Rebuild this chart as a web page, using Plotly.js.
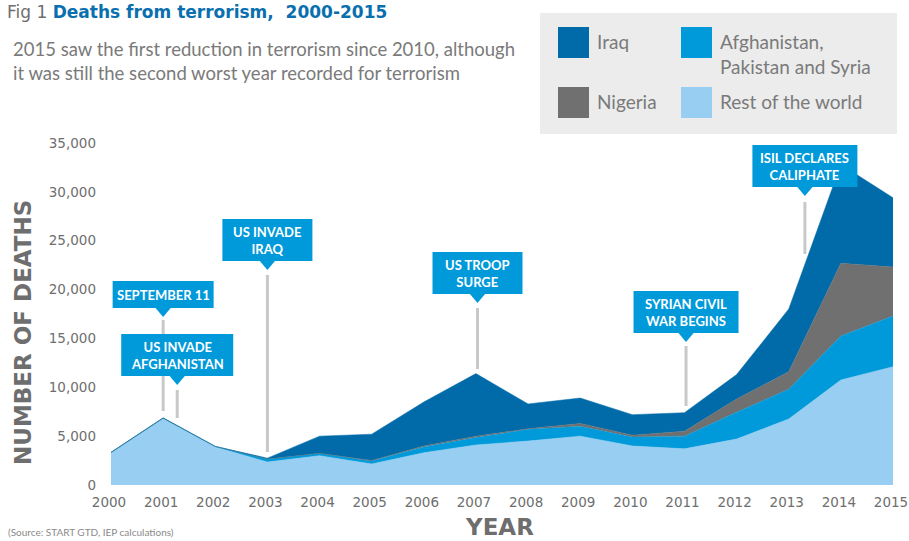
<!DOCTYPE html>
<html>
<head>
<meta charset="utf-8">
<script src="https://cdn.plot.ly/plotly-3.0.1.min.js"></script>
<style>html,body{margin:0;padding:0;background:#fff;}#chart{width:909px;height:541px;}</style>
</head>
<body>
<div id="chart"></div>
<script>
// ---- data ----
const years = [2000,2001,2002,2003,2004,2005,2006,2007,2008,2009,2010,2011,2012,2013,2014,2015];
const restOfWorld = [3300,6800,3900,2350,3000,2150,3300,4100,4500,5000,4000,3700,4700,6750,10750,12100];
const afgPakSyria = [20,50,50,300,250,300,600,750,1200,1000,900,1300,2750,3050,4500,5200];
const nigeria = [0,0,0,0,0,50,100,150,50,300,200,500,1350,1800,7450,5000];
const iraq = [30,20,0,100,1750,2700,4500,6400,2550,2600,2100,1900,2500,6400,10100,7100];
const seriesNames = ['Rest of the world','Afghanistan,<br>Pakistan and Syria','Nigeria','Iraq'];
const yTicks = [0,5000,10000,15000,20000,25000,30000,35000];
const xTicks = years;
const eventLabels = ['SEPTEMBER 11','US INVADE<br>AFGHANISTAN','US INVADE<br>IRAQ','US TROOP<br>SURGE','SYRIAN CIVIL<br>WAR BEGINS','ISIL DECLARES<br>CALIPHATE'];
const eventYears = [2001.0, 2001.27, 2003.0, 2007.03, 2011.03, 2013.31];

// ---- style / layout ----
const C = {iraq:'#006BA8', afg:'#009ADA', nig:'#707070', rest:'#97CEF1', box:'#009ADA', gray:'#6e6e6e', lineGray:'#c8c8c8'};
const W=909, H=541, L=111, R=893, T=143, B=485;
const px = v => (v-L)/(R-L);
const py = v => (B-v)/(B-T);
const yr2px = y => L + (y-2000)*(R-L)/15;
const FONT = 'Lato, "DejaVu Sans", sans-serif';

const cols = [C.rest, C.afg, C.nig, C.iraq];
const vals = [restOfWorld, afgPakSyria, nigeria, iraq];
const traces = vals.map((v,i)=>({
  x: years, y: v, type:'scatter', mode:'lines', stackgroup:'one',
  name: seriesNames[i], fillcolor: cols[i],
  line:{color:cols[i], width:0.5}, showlegend:false, hoverinfo:'skip'
}));

// callout geometry (pixels): box width, box top, box bottom, line top, line bottom
const boxGeom = [
  {w:101, t:281, b:308, lt:320, lb:411},
  {w:112, t:334, b:376, lt:390, lb:418},
  {w:90,  t:219, b:261, lt:275, lb:452},
  {w:90,  t:252, b:294, lt:308, lb:369},
  {w:105, t:291, b:333, lt:346, lb:406},
  {w:105, t:145, b:187, lt:202, lb:254}
];

const shapes = [];
const annotations = [];

// legend background
shapes.push({type:'rect', xref:'paper', yref:'paper', x0:px(540), x1:px(897), y0:py(13), y1:py(134), fillcolor:'#ececec', line:{width:0}, layer:'above'});
const legendItems = [
  {label:seriesNames[3], col:C.iraq, sx:558, sy:27},
  {label:seriesNames[1], col:C.afg, sx:681, sy:27},
  {label:seriesNames[2], col:C.nig, sx:558, sy:87},
  {label:seriesNames[0], col:C.rest, sx:681, sy:87}
];
legendItems.forEach(it=>{
  shapes.push({type:'rect', xref:'paper', yref:'paper', x0:px(it.sx), x1:px(it.sx+31), y0:py(it.sy), y1:py(it.sy+31), fillcolor:it.col, line:{width:0}, layer:'above'});
  annotations.push({xref:'paper', yref:'paper', x:px(it.sx+37), y:py(it.sy+1), xanchor:'left', yanchor:'top', align:'left', showarrow:false,
    text:it.label, font:{family:FONT, size:19, color:'#7a7a7a'}});
});

// callouts
eventYears.forEach((ey,i)=>{
  const g = boxGeom[i];
  const cx = yr2px(ey);
  shapes.push({type:'line', xref:'paper', yref:'paper', x0:px(cx), x1:px(cx), y0:py(g.lt), y1:py(g.lb), line:{color:C.lineGray, width:3}, layer:'above'});
  shapes.push({type:'rect', xref:'paper', yref:'paper', x0:px(cx-g.w/2), x1:px(cx+g.w/2), y0:py(g.t), y1:py(g.b), fillcolor:C.box, line:{width:0}, layer:'above'});
  shapes.push({type:'path', xref:'paper', yref:'paper',
    path:`M ${px(cx-8)} ${py(g.b-0.5)} L ${px(cx+8)} ${py(g.b-0.5)} L ${px(cx)} ${py(g.b+9)} Z`,
    fillcolor:C.box, line:{width:0}, layer:'above'});
  annotations.push({xref:'paper', yref:'paper', x:px(cx), y:py((g.t+g.b)/2), xanchor:'center', yanchor:'middle', showarrow:false,
    text:'<b>'+eventLabels[i]+'</b>', font:{family:FONT, size:13, color:'#ffffff'}});
});

// title + subtitle
annotations.push({xref:'paper', yref:'paper', x:px(5), y:py(0), xanchor:'left', yanchor:'top', align:'left', showarrow:false,
  text:'Fig 1 <b><span style="color:#0a6fae">Deaths from terrorism,  2000-2015</span></b>', font:{family:'"DejaVu Sans", sans-serif', size:17, color:'#6e6e6e'}});
annotations.push({xref:'paper', yref:'paper', x:px(11), y:py(36), xanchor:'left', yanchor:'top', align:'left', showarrow:false,
  text:'2015 saw the first reduction in terrorism since 2010, although<br>it was still the second worst year recorded for terrorism', font:{family:FONT, size:18.5, color:'#7a7a7a'}});

// axis titles
annotations.push({xref:'paper', yref:'paper', x:px(23), y:py(333), xanchor:'center', yanchor:'middle', textangle:-90, showarrow:false,
  text:'<b>NUMBER OF DEATHS</b>', font:{family:'"DejaVu Sans", sans-serif', size:23, color:C.gray}});
annotations.push({xref:'paper', yref:'paper', x:px(499), y:py(527), xanchor:'center', yanchor:'middle', showarrow:false,
  text:'<b>YEAR</b>', font:{family:'"DejaVu Sans", sans-serif', size:23, color:C.gray}});
// source
annotations.push({xref:'paper', yref:'paper', x:px(6), y:py(540), xanchor:'left', yanchor:'bottom', align:'left', showarrow:false,
  text:'(Source: START GTD, IEP calculations)', font:{family:FONT, size:10, color:'#8a8a8a'}});

const layout = {
  width:W, height:H, autosize:false,
  margin:{l:L, r:W-R, t:T, b:H-B, pad:0},
  paper_bgcolor:'#ffffff', plot_bgcolor:'#ffffff',
  showlegend:false,
  xaxis:{range:[2000,2015], tickvals:xTicks, ticktext:xTicks.map(String), showgrid:false, zeroline:false, showline:false,
    ticks:'', ticklabelstandoff:7, ticklabelshift:-2, ticklabeloverflow:'allow', tickfont:{family:'"DejaVu Sans", sans-serif', size:13.5, color:C.gray}, fixedrange:true},
  yaxis:{range:[0,35000], tickvals:yTicks, ticktext:yTicks.map(v=>v.toLocaleString('en-US')), showgrid:false, zeroline:false, showline:false,
    ticks:'', ticklabelstandoff:14, tickfont:{family:'"DejaVu Sans", sans-serif', size:13.5, color:C.gray}, fixedrange:true},
  shapes:shapes, annotations:annotations,
  hovermode:false
};

Plotly.newPlot('chart', traces, layout, {displayModeBar:false, staticPlot:true});
</script>
</body>
</html>
